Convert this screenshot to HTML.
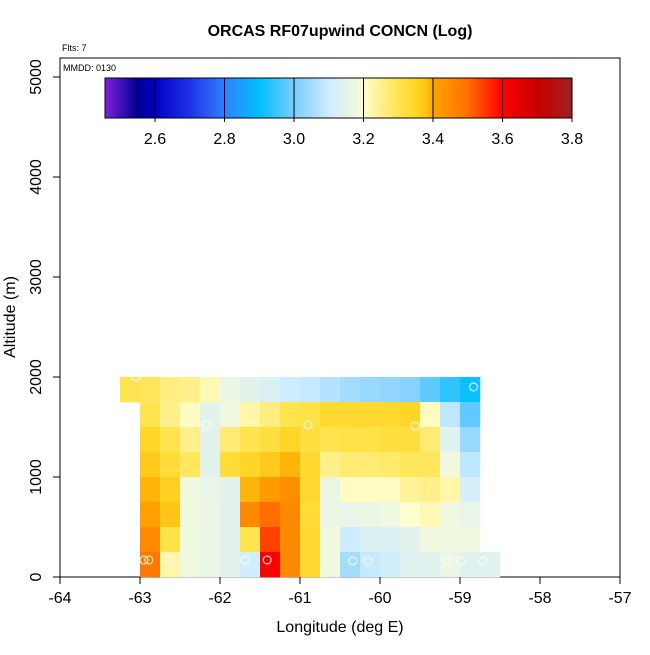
<!DOCTYPE html>
<html><head><meta charset="utf-8">
<style>
body{margin:0;background:#fff;font-family:"Liberation Sans",sans-serif;}
svg text{font-family:"Liberation Sans",sans-serif;}
</style></head>
<body>
<svg id="chart" width="650" height="650" viewBox="0 0 650 650" xmlns="http://www.w3.org/2000/svg">
<rect width="650" height="650" fill="#fff"/>
<text x="340" y="36" text-anchor="middle" font-size="16" font-weight="bold">ORCAS RF07upwind CONCN (Log)</text>
<text x="62" y="51" font-size="9">Flts: 7</text>
<rect x="60" y="58" width="560" height="519" fill="none" stroke="#000" stroke-width="1"/>
<text x="63" y="71" font-size="9">MMDD: 0130</text>
<g id="cells"></g>
<g id="pts"></g>
<defs><linearGradient id="cbg" x1="0" x2="1" y1="0" y2="0"></linearGradient></defs>
<g id="cbar"></g>
<g id="axes"></g>
<text x="340" y="632" text-anchor="middle" font-size="16">Longitude (deg E)</text>
<text transform="translate(15,317) rotate(-90)" text-anchor="middle" font-size="16">Altitude (m)</text>
</svg>
<script>
const xTicks=[-64,-63,-62,-61,-60,-59,-58,-57];
const yTicks=[0,1000,2000,3000,4000,5000];
const cbTicks=[2.6,2.8,3.0,3.2,3.4,3.6,3.8];
const lonStart=-63.25, lonStep=0.25, altStep=250;
// rows from top (1750-2000) to bottom (0-250); null = no data
const row0=[3.30,3.29,3.26,3.25,3.22,3.17,3.15,3.13,3.10,3.09,3.07,3.05,3.04,3.03,3.02,2.98,2.94,2.91,null];
const row1=[null,3.30,3.25,3.21,3.15,3.18,3.23,3.26,3.30,3.31,3.34,3.34,3.34,3.34,3.35,3.21,3.08,2.98,null];
const row2=[null,3.35,3.30,3.25,3.15,3.27,3.30,3.32,3.35,3.32,3.30,3.31,3.31,3.32,3.32,3.27,3.14,3.04,null];
const row3=[null,3.37,3.33,3.29,3.15,3.33,3.35,3.37,3.39,3.34,3.25,3.27,3.27,3.28,3.29,3.29,3.18,3.08,null];
const row4=[null,3.39,3.36,3.18,3.16,3.15,3.39,3.42,3.44,3.34,3.17,3.21,3.21,3.21,3.24,3.25,3.23,3.12,null];
const row5=[null,3.41,3.38,3.18,3.17,3.15,3.45,3.50,3.45,3.33,3.17,3.16,3.17,3.18,3.20,3.22,3.18,3.16,null];
const row6=[null,3.45,3.31,3.18,3.17,3.15,3.30,3.54,3.45,3.34,3.18,3.10,3.13,3.13,3.15,3.18,3.18,3.18,null];
const row7=[null,3.48,3.23,3.18,3.17,3.15,3.11,3.60,3.45,3.34,3.18,3.05,3.09,3.11,3.14,3.14,3.17,3.14,3.14];
const rows=[row0,row1,row2,row3,row4,row5,row6,row7];
const ptLon=[-63.05,-62.95,-62.89,-62.62,-62.17,-61.69,-61.41,-60.90,-60.34,-60.15,-59.56,-59.16,-58.99,-58.83,-58.71];
const ptAlt=[2000,170,170,170,1520,170,170,1520,160,160,1510,160,160,1900,160];

const cmin=2.456,cmax=3.8;
const stops=[[2.456,[128,32,224]],[2.55,[0,0,144]],[2.6,[0,0,200]],[2.7,[30,50,230]],[2.8,[48,128,255]],[2.9,[0,191,255]],[3.0,[120,204,255]],[3.1,[206,236,255]],[3.18,[240,248,224]],[3.2,[255,255,208]],[3.25,[255,240,140]],[3.3,[255,228,80]],[3.35,[255,214,40]],[3.38,[255,196,20]],[3.4,[255,165,0]],[3.5,[255,110,0]],[3.6,[255,0,0]],[3.7,[200,0,0]],[3.8,[160,32,32]]];
function col(v){
  for(let i=0;i<stops.length-1;i++){const a=stops[i],b=stops[i+1];
    if(v<=b[0]||i==stops.length-2){const t=Math.max(0,Math.min(1,(v-a[0])/(b[0]-a[0])));
      return 'rgb('+a[1].map((c,k)=>Math.round(c+(b[1][k]-c)*t)).join(',')+')';}}
}
const X=lon=>60+(lon+64)*80;
const Y=alt=>577-alt*0.1;
const NS='http://www.w3.org/2000/svg';
function mk(tag,at,parent){const e=document.createElementNS(NS,tag);for(const k in at)e.setAttribute(k,at[k]);parent.appendChild(e);return e;}
const cells=document.getElementById('cells');
rows.forEach((r,ri)=>{const top=2000-ri*altStep;
  r.forEach((v,ci)=>{if(v===null)return;const l=lonStart+ci*lonStep;
    const e=mk('rect',{x:X(l),y:Y(top),width:X(l+lonStep)-X(l)+0.3,height:Y(top-altStep)-Y(top)+0.3,fill:col(v)},cells);
    
    
  });});
const pts=document.getElementById('pts');
ptLon.forEach((l,i)=>{const e=mk('circle',{cx:X(l),cy:Y(ptAlt[i]),r:4,fill:'none',stroke:'#fff','stroke-width':1},pts);
  
  });
const g=document.getElementById('cbg');
stops.forEach(s=>mk('stop',{offset:(s[0]-cmin)/(cmax-cmin),'stop-color':col(s[0])},g));
const cb=document.getElementById('cbar');
const CX=v=>105+(v-cmin)/(cmax-cmin)*467;
const cbr=mk('rect',{x:105,y:78,width:467,height:40,fill:'url(#cbg)',stroke:'#000','stroke-width':1},cb);


cbTicks.forEach(v=>{mk('line',{x1:CX(v),x2:CX(v),y1:78,y2:122,stroke:'#000','stroke-width':1},cb);
  const t=mk('text',{x:CX(v),y:144,'text-anchor':'middle','font-size':16},cb);t.textContent=v.toFixed(1);
  
  });
const ax=document.getElementById('axes');
xTicks.forEach(v=>{mk('line',{x1:X(v),x2:X(v),y1:577,y2:584,stroke:'#000'},ax);
  const t=mk('text',{x:X(v),y:603,'text-anchor':'middle','font-size':16},ax);t.textContent=v;
  
  });
yTicks.forEach(v=>{mk('line',{x1:53,x2:60,y1:Y(v),y2:Y(v),stroke:'#000'},ax);
  const t=mk('text',{transform:'translate(41,'+Y(v)+') rotate(-90)','text-anchor':'middle','font-size':16},ax);t.textContent=v;
  
  });
</script>
</body></html>
